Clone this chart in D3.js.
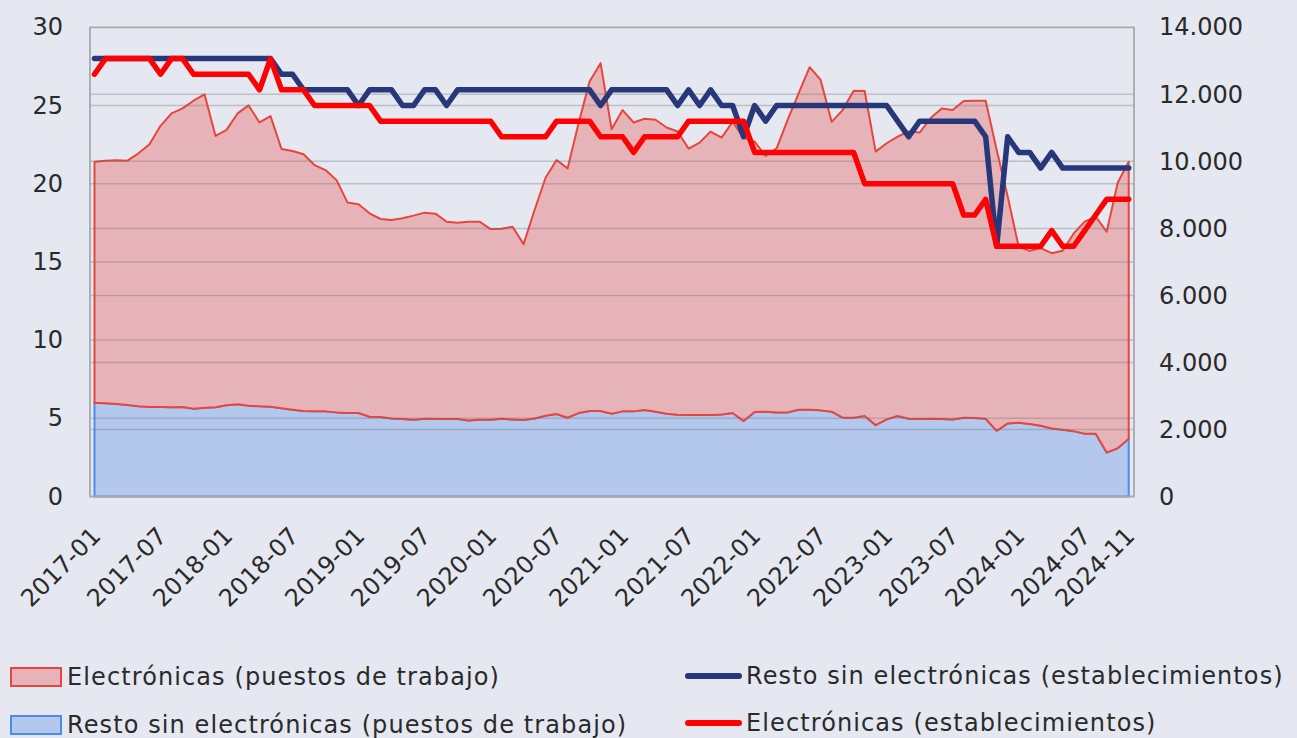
<!DOCTYPE html>
<html>
<head>
<meta charset="utf-8">
<script src="https://cdn.jsdelivr.net/npm/d3@7"></script>
<style>
  html, body { margin: 0; padding: 0; background: #e5e8f0; }
  svg { display: block; font-family: "DejaVu Sans", sans-serif; }
</style>
</head>
<body>
<svg id="chart" width="1297" height="738"></svg>
<script>
// months 2017-01 .. 2024-11
const months = d3.utcMonth.range(new Date(Date.UTC(2017, 0, 1)), new Date(Date.UTC(2024, 11, 1)))
    .map(d3.utcFormat("%Y-%m"));

const xTickLabels = ["2017-01", "2017-07", "2018-01", "2018-07", "2019-01", "2019-07", "2020-01",
    "2020-07", "2021-01", "2021-07", "2022-01", "2022-07", "2023-01", "2023-07", "2024-01",
    "2024-07", "2024-11"];
const leftTicks = [0, 5, 10, 15, 20, 25, 30];
const rightTicks = [0, 2, 4, 6, 8, 10, 12, 14];   // miles

// puestos de trabajo, resto sin electrónicas (miles)
const puestosResto = [
    2.80, 2.78, 2.76, 2.73, 2.69, 2.67, 2.67, 2.66, 2.67, 2.62,
    2.65, 2.66, 2.72, 2.75, 2.71, 2.69, 2.68, 2.63, 2.59, 2.55,
    2.54, 2.54, 2.51, 2.49, 2.49, 2.38, 2.37, 2.33, 2.31, 2.29,
    2.32, 2.31, 2.31, 2.31, 2.27, 2.29, 2.29, 2.32, 2.30, 2.28,
    2.33, 2.41, 2.46, 2.35, 2.49, 2.55, 2.55, 2.47, 2.54, 2.54,
    2.58, 2.53, 2.47, 2.44, 2.43, 2.43, 2.43, 2.45, 2.49, 2.25,
    2.52, 2.53, 2.51, 2.51, 2.59, 2.59, 2.57, 2.53, 2.35, 2.35,
    2.40, 2.13, 2.30, 2.40, 2.32, 2.31, 2.32, 2.31, 2.30, 2.35,
    2.34, 2.32, 1.96, 2.18, 2.20, 2.16, 2.11, 2.03, 1.99, 1.95,
    1.87, 1.87, 1.31, 1.44, 1.72
];

// puestos de trabajo, electrónicas (miles)
const puestosElec = [
    7.19, 7.24, 7.27, 7.29, 7.55, 7.84, 8.39, 8.77, 8.91, 9.19,
    9.35, 8.10, 8.22, 8.68, 8.96, 8.47, 8.67, 7.74, 7.72, 7.66,
    7.35, 7.20, 6.93, 6.28, 6.23, 6.07, 5.91, 5.92, 5.99, 6.09,
    6.15, 6.13, 5.89, 5.86, 5.93, 5.91, 5.69, 5.67, 5.75, 5.25,
    6.22, 7.10, 7.58, 7.44, 8.65, 9.83, 10.38, 8.49, 8.99, 8.62,
    8.69, 8.71, 8.54, 8.45, 7.95, 8.13, 8.46, 8.26, 8.69, 8.45,
    8.07, 7.63, 7.88, 8.73, 9.44, 10.22, 9.86, 8.65, 9.18, 9.76,
    9.70, 8.16, 8.24, 8.34, 8.57, 8.55, 8.97, 9.27, 9.23, 9.45,
    9.47, 9.49, 8.38, 6.77, 5.25, 5.17, 5.30, 5.23, 5.34, 5.90,
    6.33, 6.48, 6.59, 7.92, 8.27
];

// establecimientos, resto sin electrónicas
const estabResto = [
    28, 28, 28, 28, 28, 28, 28, 28, 28, 28,
    28, 28, 28, 28, 28, 28, 28, 27, 27, 26,
    26, 26, 26, 26, 25, 26, 26, 26, 25, 25,
    26, 26, 25, 26, 26, 26, 26, 26, 26, 26,
    26, 26, 26, 26, 26, 26, 25, 26, 26, 26,
    26, 26, 26, 25, 26, 25, 26, 25, 25, 23,
    25, 24, 25, 25, 25, 25, 25, 25, 25, 25,
    25, 25, 25, 24, 23, 24, 24, 24, 24, 24,
    24, 23, 16, 23, 22, 22, 21, 22, 21, 21,
    21, 21, 21, 21, 21
];

// establecimientos, electrónicas
const estabElec = [
    27, 28, 28, 28, 28, 28, 27, 28, 28, 27,
    27, 27, 27, 27, 27, 26, 28, 26, 26, 26,
    25, 25, 25, 25, 25, 25, 24, 24, 24, 24,
    24, 24, 24, 24, 24, 24, 24, 23, 23, 23,
    23, 23, 24, 24, 24, 24, 23, 23, 23, 22,
    23, 23, 23, 23, 24, 24, 24, 24, 24, 24,
    22, 22, 22, 22, 22, 22, 22, 22, 22, 22,
    20, 20, 20, 20, 20, 20, 20, 20, 20, 18,
    18, 19, 16, 16, 16, 16, 16, 17, 16, 16,
    17, 18, 19, 19, 19
];

const svg = d3.select("#chart");
const W = 1297, H = 738;

let plot = {left: 90, right: 1134, top: 27.3, bottom: 496.5};

svg.append("rect").attr("width", W).attr("height", H).attr("fill", "#e5e8f0");

let xScale = d3.scalePoint()
    .domain(months)
    .range([94.5, 1128.7]);

let yLeft = d3.scaleLinear().domain([0, 30]).range([plot.bottom, plot.top]);
let yRight = d3.scaleLinear().domain([0, 14]).range([plot.bottom, plot.top]);

let esFormat = d3.formatLocale({decimal: ",", thousands: ".", grouping: [3], currency: ["", " €"]}).format(",");

// stacked puestos
let rows = months.map((m, i) => ({month: m, resto: puestosResto[i], elec: puestosElec[i]}));
let stacked = d3.stack().keys(["resto", "elec"])(rows);

let area = d3.area()
    .x(d => xScale(d.data.month))
    .y0(d => yRight(d[0]))
    .y1(d => yRight(d[1]));

svg.append("path")
    .datum(stacked[0])
    .attr("d", area)
    .attr("fill", "#b4c8ee")
    .attr("stroke", "#4a8cf2")
    .attr("stroke-width", 2);

svg.append("path")
    .datum(stacked[1])
    .attr("d", area)
    .attr("fill", "#e6b4b8")
    .attr("stroke", "#e8453c")
    .attr("stroke-width", 2)
    .attr("stroke-linejoin", "round");

//Gridlines for both axes
let grid = svg.append("g").attr("stroke", "rgba(110,110,115,0.33)").attr("stroke-width", 1.5);
grid.selectAll("line.l")
    .data(leftTicks.filter(d => d > 0 && d < 30))
    .join("line")
    .attr("class", "l")
    .attr("x1", plot.left).attr("x2", plot.right)
    .attr("y1", d => yLeft(d)).attr("y2", d => yLeft(d));
grid.selectAll("line.r")
    .data(rightTicks.filter(d => d > 0 && d < 14))
    .join("line")
    .attr("class", "r")
    .attr("x1", plot.left).attr("x2", plot.right)
    .attr("y1", d => yRight(d)).attr("y2", d => yRight(d));

// plot frame
svg.append("path")
    .attr("d", `M${plot.left},${plot.bottom} V${plot.top} H${plot.right} V${plot.bottom} Z`)
    .attr("fill", "none")
    .attr("stroke", "#a8a9ad")
    .attr("stroke-width", 1.8);

// establecimientos lines (left axis)
let line = d3.line()
    .x((d, i) => xScale(months[i]))
    .y(d => yLeft(d));

svg.append("path")
    .datum(estabResto)
    .attr("d", line)
    .attr("fill", "none")
    .attr("stroke", "#26387a")
    .attr("stroke-width", 5.5)
    .attr("stroke-linejoin", "round")
    .attr("stroke-linecap", "round");

svg.append("path")
    .datum(estabElec)
    .attr("d", line)
    .attr("fill", "none")
    .attr("stroke", "#ff0000")
    .attr("stroke-width", 5.5)
    .attr("stroke-linejoin", "round")
    .attr("stroke-linecap", "round");

// axes
let textColor = "#2a2a2a";

let leftAxis = svg.append("g")
    .attr("transform", `translate(${plot.left},0)`)
    .call(d3.axisLeft(yLeft).tickValues(leftTicks).tickSize(0).tickPadding(27));

let rightAxis = svg.append("g")
    .attr("transform", `translate(${plot.right},0)`)
    .call(d3.axisRight(yRight).tickValues(rightTicks).tickSize(0).tickPadding(25)
        .tickFormat(d => esFormat(d * 1000)));

let bottomAxis = svg.append("g")
    .attr("transform", `translate(0,${plot.bottom})`)
    .call(d3.axisBottom(xScale).tickValues(xTickLabels).tickSize(0));

[leftAxis, rightAxis, bottomAxis].forEach(a => {
    a.select(".domain").remove();
    a.selectAll("text")
        .attr("fill", textColor)
        .style("font-family", "'DejaVu Sans', sans-serif")
        .style("font-size", "24px");
});

bottomAxis.selectAll("text")
    .attr("y", 0)
    .attr("dy", "0.35em")
    .style("text-anchor", "end")
    .attr("transform", "translate(1,35) rotate(-45)");

// legend
let legend = svg.append("g")
    .style("font-family", "'DejaVu Sans', sans-serif")
    .style("font-size", "24px")
    .style("letter-spacing", "1.1px")
    .attr("fill", textColor);

let areaLegend = [
    {label: "Electrónicas (puestos de trabajo)", fill: "#e6b4b8", stroke: "#e8453c", y: 677},
    {label: "Resto sin electrónicas (puestos de trabajo)", fill: "#b4c8ee", stroke: "#4a8cf2", y: 725}
];
let lineLegend = [
    {label: "Resto sin electrónicas (establecimientos)", stroke: "#26387a", y: 676},
    {label: "Electrónicas (establecimientos)", stroke: "#ff0000", y: 723}
];

areaLegend.forEach(d => {
    legend.append("rect")
        .attr("x", 11).attr("y", d.y - 9)
        .attr("width", 50).attr("height", 18)
        .attr("fill", d.fill).attr("stroke", d.stroke).attr("stroke-width", 2);
    legend.append("text")
        .attr("x", 67).attr("y", d.y).attr("dy", "0.35em")
        .text(d.label);
});

lineLegend.forEach(d => {
    legend.append("line")
        .attr("x1", 688).attr("x2", 739)
        .attr("y1", d.y).attr("y2", d.y)
        .attr("stroke", d.stroke).attr("stroke-width", 6).attr("stroke-linecap", "round");
    legend.append("text")
        .attr("x", 746).attr("y", d.y).attr("dy", "0.35em")
        .text(d.label);
});
</script>
</body>
</html>
